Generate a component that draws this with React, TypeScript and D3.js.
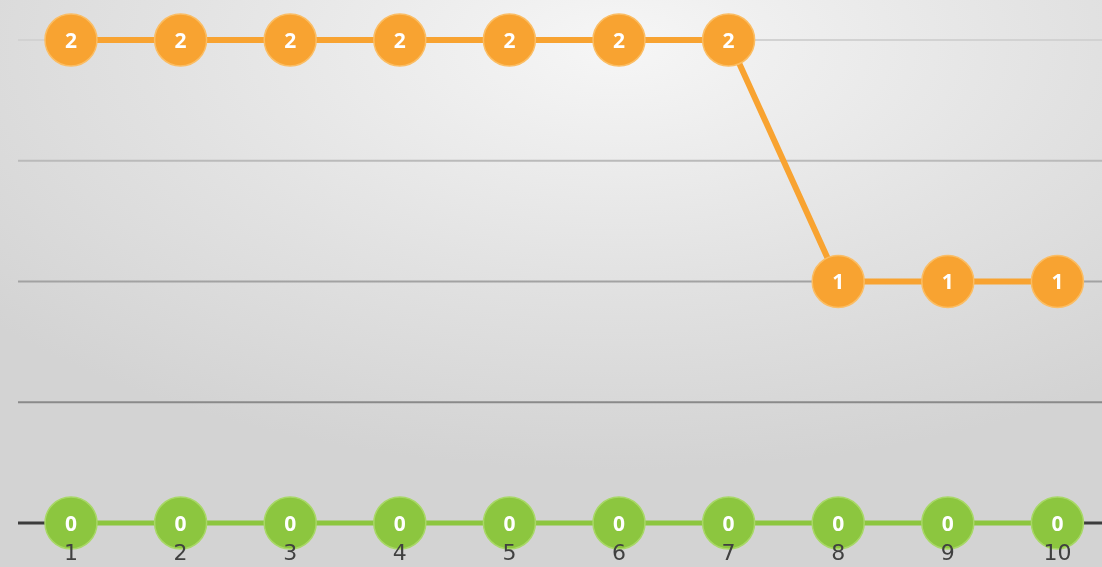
import React from "react";
import * as d3 from "d3";

const categories = ["1", "2", "3", "4", "5", "6", "7", "8", "9", "10"];
const seriesTop = [2, 2, 2, 2, 2, 2, 2, 1, 1, 1];
const seriesBottom = [0, 0, 0, 0, 0, 0, 0, 0, 0, 0];
const yTicks = [0, 0.5, 1, 1.5, 2];

const W = 1102;
const H = 567;

export default function App() {
  const x = d3.scaleBand<string>().domain(categories).range([16.2, 1112.2]);
  const y = d3.scaleLinear().domain([0, 2]).range([523, 40]);
  const cx = (c: string) => (x(c) ?? 0) + x.bandwidth() / 2;

  // grid gets lighter toward the top
  const gridColor = d3
    .scaleLinear<string>()
    .domain([0.5, 2])
    .range(["#8a8a8a", "#d2d2d2"]);

  const line = d3
    .line<number>()
    .x((_, i) => cx(categories[i]))
    .y((d) => y(d));

  const series = [
    { values: seriesBottom, fill: "#8cc63f", edge: "#a8d866", width: 5 },
    { values: seriesTop, fill: "#f8a331", edge: "#fbbd63", width: 6 },
  ];

  return (
    <div style={{ position: "fixed", left: 0, top: 0 }}>
      <svg width={W} height={H} style={{ display: "block" }}>
        <defs>
          <radialGradient id="bg" cx="0.56" cy="0.08" r="0.75">
            <stop offset="0" stopColor="#f6f6f6" />
            <stop offset="0.55" stopColor="#e2e2e2" />
            <stop offset="1" stopColor="#d3d3d3" />
          </radialGradient>
        </defs>
        <rect width={W} height={H} fill="url(#bg)" />

        {/* gridlines */}
        {yTicks
          .filter((t) => t > 0)
          .map((t) => (
            <line
              key={t}
              x1={18}
              x2={W}
              y1={y(t)}
              y2={y(t)}
              stroke={gridColor(t)}
              strokeWidth={2}
            />
          ))}

        {/* baseline */}
        <line x1={18} x2={W} y1={y(0)} y2={y(0)} stroke="#3c3c3c" strokeWidth={3} />

        {series.map((s, si) => (
          <g key={si}>
            <path d={line(s.values) || ""} fill="none" stroke={s.fill} strokeWidth={s.width} />
            {s.values.map((v, i) => (
              <g key={i}>
                <circle
                  cx={cx(categories[i])}
                  cy={y(v)}
                  r={26}
                  fill={s.fill}
                  stroke={s.edge}
                  strokeWidth={1.5}
                />
                <text
                  x={cx(categories[i])}
                  y={y(v)}
                  dy="0.36em"
                  textAnchor="middle"
                  fill="#ffffff"
                  fontFamily="'Open Sans', 'DejaVu Sans', sans-serif"
                  fontWeight={700}
                  fontSize={21}
                >
                  {v}
                </text>
              </g>
            ))}
          </g>
        ))}

        {/* category labels */}
        {categories.map((c) => (
          <text
            key={c}
            x={cx(c)}
            y={560}
            textAnchor="middle"
            fill="#404040"
            fontFamily="'DejaVu Sans', sans-serif"
            fontSize={22}
          >
            {c}
          </text>
        ))}
      </svg>
    </div>
  );
}
